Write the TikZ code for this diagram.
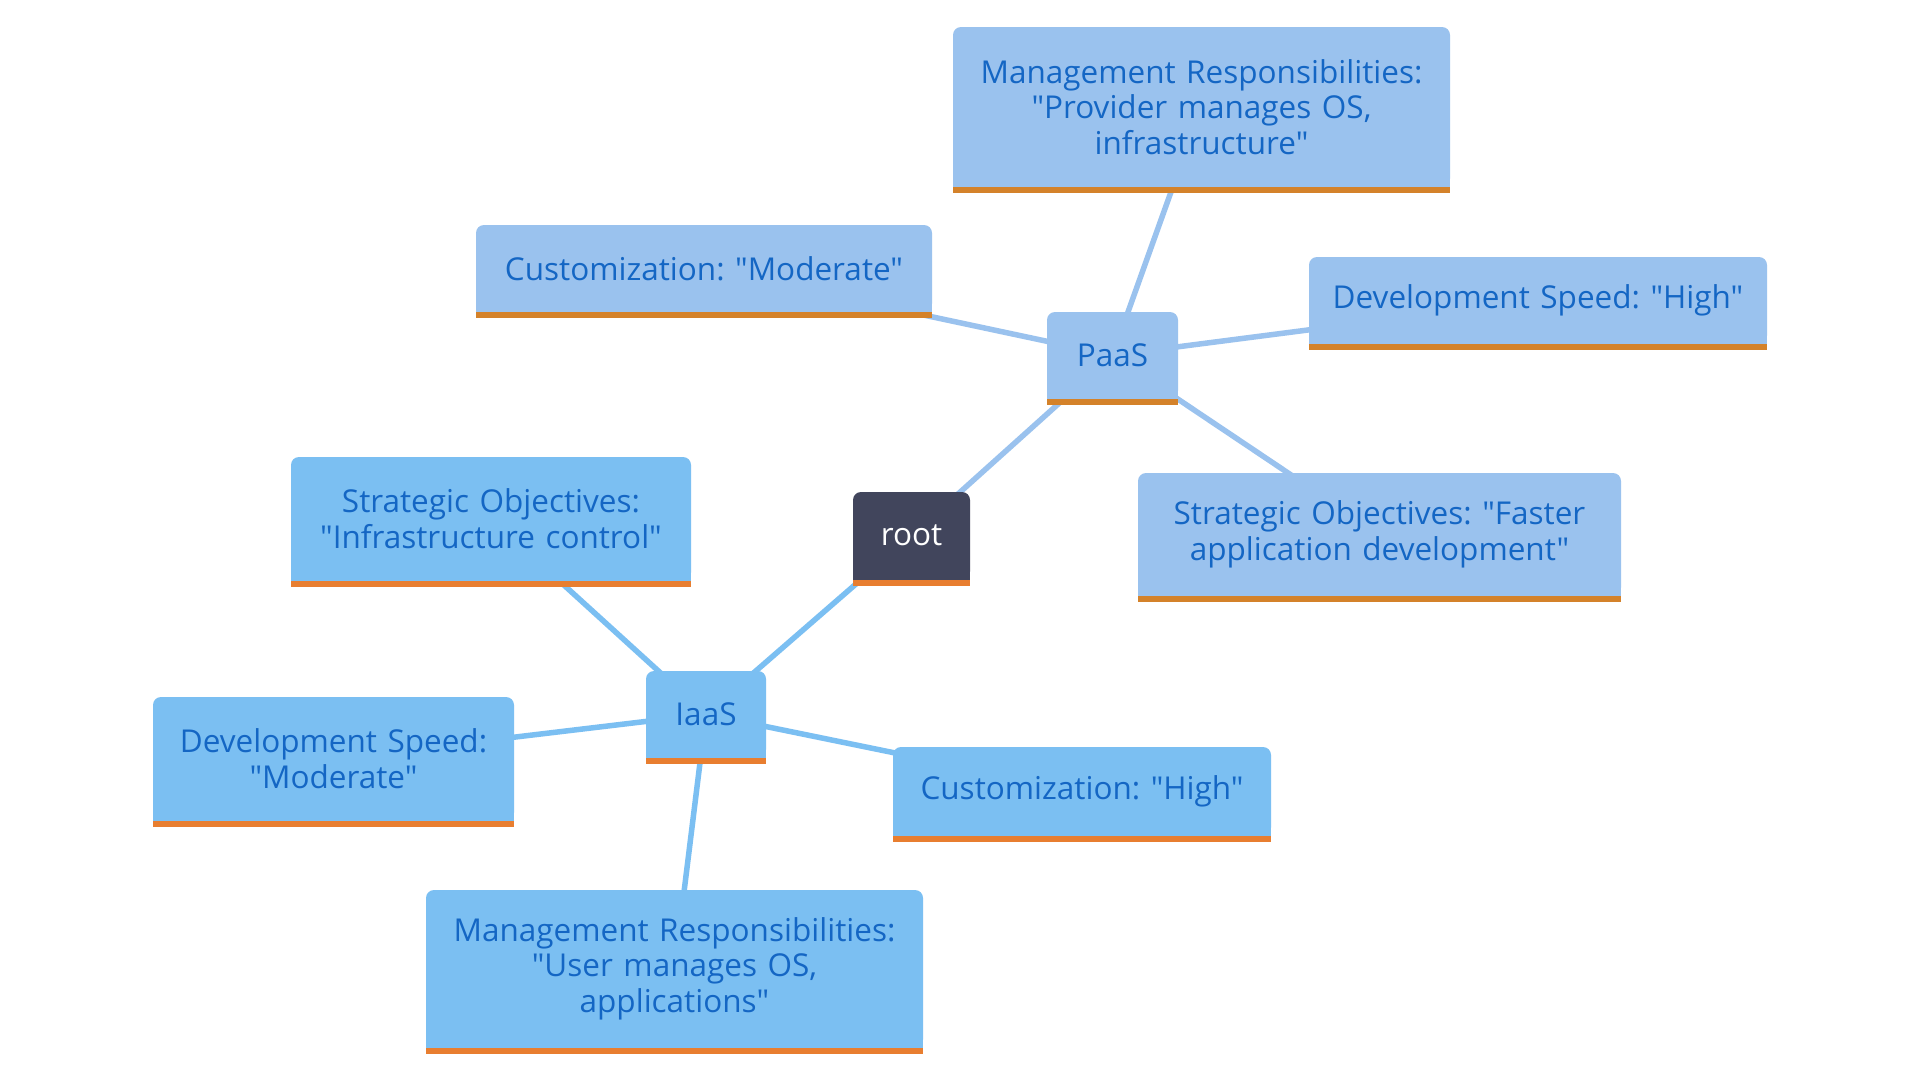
\documentclass[tikz,border=0pt]{standalone}
\usepackage{fontspec}
\setmainfont{Open Sans}[Ligatures=TeXOff]
\usetikzlibrary{backgrounds}
\frenchspacing
\definecolor{pfill}{HTML}{9AC2EE}
\definecolor{ifill}{HTML}{7BBFF2}
\definecolor{pbar}{HTML}{D4822A}
\definecolor{ibar}{HTML}{E87E30}
\definecolor{rootfill}{HTML}{41455C}
\definecolor{txt}{HTML}{1466C4}
\tikzset{
  box/.style={rounded corners=8pt, inner sep=0pt, align=center, font=\fontsize{31.5}{35.5}\selectfont, text=txt},
  pbox/.style={box, fill=pfill},
  ibox/.style={box, fill=ifill},
  rbox/.style={box, fill=rootfill, text=white},
  pedge/.style={draw=pfill, line width=5.5pt},
  iedge/.style={draw=ifill, line width=5.5pt},
  sz/.style 2 args={minimum width=#1pt, minimum height=#2pt-6.5pt, text width=#1pt-20pt, yshift=3.25pt},
}
\begin{document}
\begin{tikzpicture}[x=1pt,y=-1pt]
\useasboundingbox (0,0) rectangle (1920,1080);
\node[rbox, sz={117}{94}] (root) at (911.5,539) {root};
\node[pbox, sz={131}{93}] (paas) at (1112.5,358.5) {PaaS};
\node[ibox, sz={120}{93}] (iaas) at (706,717.5) {IaaS};
\node[pbox, sz={497}{166}] (pmgmt) at (1201.5,110) {Management Responsibilities:\\"Provider manages OS,\\infrastructure"};
\node[pbox, sz={456}{93}] (pcust) at (704,271.5) {Customization: "Moderate"};
\node[pbox, sz={458}{93}] (pdev) at (1538,303.5) {Development Speed: "High"};
\node[pbox, sz={483}{129}] (pstrat) at (1379.5,537.5) {Strategic Objectives: "Faster\\application development"};
\node[ibox, sz={400}{130}] (istrat) at (491,522) {Strategic Objectives:\\"Infrastructure control"};
\node[ibox, sz={361}{130}] (idev) at (333.5,762) {Development Speed:\\"Moderate"};
\node[ibox, sz={378}{95}] (icust) at (1082,794.5) {Customization: "High"};
\node[ibox, sz={497}{164}] (imgmt) at (674.5,972) {Management Responsibilities:\\"User manages OS,\\applications"};
\foreach \n/\f/\b in {root/rootfill/ibar, paas/pfill/pbar, iaas/ifill/ibar, pmgmt/pfill/pbar, pcust/pfill/pbar, pdev/pfill/pbar, pstrat/pfill/pbar, istrat/ifill/ibar, idev/ifill/ibar, icust/ifill/ibar, imgmt/ifill/ibar}{
  \fill[\f] (\n.south west) rectangle ([yshift=10pt]\n.south east);
  \fill[\b] (\n.south west) rectangle ([yshift=-6.5pt]\n.south east);
}
\begin{scope}[on background layer]
\fill[white] (0,0) rectangle (1920,1080);
\draw[pedge] (root.center) -- (paas.center);
\draw[iedge] (root.center) -- (iaas.center);
\draw[pedge] (paas.center) -- (pmgmt.center);
\draw[pedge] (paas.center) -- (pcust.center);
\draw[pedge] (paas.center) -- (pdev.center);
\draw[pedge] (paas.center) -- (pstrat.center);
\draw[iedge] (iaas.center) -- (istrat.center);
\draw[iedge] (iaas.center) -- (idev.center);
\draw[iedge] (iaas.center) -- (icust.center);
\draw[iedge] (iaas.center) -- (imgmt.center);
\end{scope}
\end{tikzpicture}
\end{document}
